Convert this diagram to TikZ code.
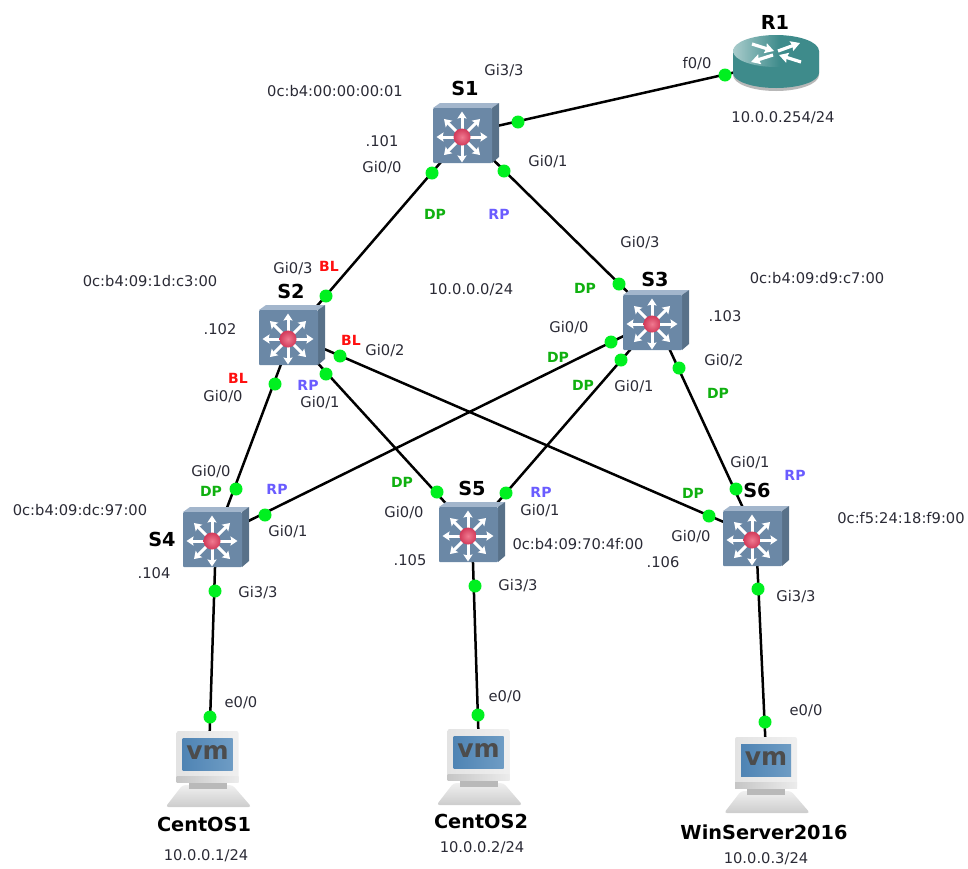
\documentclass[tikz,border=0pt]{standalone}
\usepackage{fontspec}
\setmainfont{DejaVu Sans}
\usetikzlibrary{arrows.meta}
\definecolor{portgreen}{HTML}{00F020}
\definecolor{dpgreen}{HTML}{10B010}
\definecolor{rpblue}{HTML}{6A5CFF}
\definecolor{blred}{HTML}{FF1010}
\definecolor{txt}{HTML}{2A2A35}
\definecolor{swfront}{HTML}{6B88A6}
\definecolor{swtop}{HTML}{A3B6CC}
\definecolor{swside}{HTML}{587189}
\definecolor{teal}{HTML}{3E8B8B}
\definecolor{tealpale}{HTML}{A9CCCC}
\definecolor{vmblue}{HTML}{4F84B4}
\definecolor{vmblue2}{HTML}{6E9CC4}
\definecolor{redlite}{HTML}{F07A90}
\definecolor{reddark}{HTML}{D23A5A}
\pgfdeclarehorizontalshading{routertop}{100bp}{color(0bp)=(tealpale); color(25bp)=(tealpale); color(52bp)=(teal); color(100bp)=(teal)}
\newcounter{autoid}
\tikzset{
  x=1pt,y=-1pt,
  link/.style={draw=black,line width=2.5pt},
  portdotstyle/.style={circle,fill=portgreen,draw=none,minimum size=13pt,inner sep=0pt},
  small/.style={font=\fontsize{14.7}{16}\selectfont,text=txt,inner sep=0pt},
  devname/.style={font=\fontsize{19.3}{22}\bfseries\selectfont,text=black,inner sep=0pt},
  DP/.style={font=\fontsize{14}{16}\bfseries\selectfont,text=dpgreen,inner sep=0pt},
  RP/.style={font=\fontsize{14}{16}\bfseries\selectfont,text=rpblue,inner sep=0pt},
  BL/.style={font=\fontsize{14}{16}\bfseries\selectfont,text=blred,inner sep=0pt},
  spoke/.style={draw=white,line width=3pt,-{Stealth[length=7pt,width=9pt,inset=1pt]}},
  rarrow/.style={draw=white,line width=3.2pt,-{Stealth[length=9pt,width=10pt,inset=1pt]}},
}
\newcommand{\tl}[3]{\stepcounter{autoid}\node[#1] (t\theautoid) at (#2) {#3};}
\newcommand{\pd}[1]{\stepcounter{autoid}\node[portdotstyle] (p\theautoid) at (#1) {};}
\newcommand{\swicon}[1]{%
 \begin{scope}[shift={(#1.center)}]
  \fill[swtop] (-33,-25) -- (-26,-30) -- (33,-30) -- (26,-25) -- cycle;
  \fill[swside] (26,-25) -- (33,-30) -- (33,24) -- (26,30) -- cycle;
  \fill[swfront,rounded corners=1pt] (-33,-25) rectangle (26,30);
  \foreach \a in {0,45,...,315}{\draw[spoke] (-4,4) -- ++(\a:25.5);}
  \shade[inner color=redlite,outer color=reddark] (-4,4) circle (8.5);
 \end{scope}}
\newcommand{\vmicon}[1]{%
 \begin{scope}[shift={(#1.center)}]
  \shade[top color=gray!12,bottom color=gray!40,rounded corners=3pt] (-26,16) -- (24,16) -- (43,38) -- (-43,38) -- cycle;
  \fill[gray!55] (-20,12) rectangle (18,20);
  \shade[left color=gray!22,right color=gray!12,rounded corners=2pt] (-32,-38) rectangle (30,13);
  \shade[left color=gray!45,right color=gray!15] (-32,7) rectangle (30,13);
  \shade[left color=vmblue,right color=vmblue2] (-26,-31) rectangle (24,1);
  \node[inner sep=0pt,text=black!70,font=\fontsize{25}{25}\bfseries\selectfont] (#1txt) at (-1,-17) {vm};
 \end{scope}}
\begin{document}
\begin{tikzpicture}
\useasboundingbox (0,0) rectangle (968,868);
% anchors
\foreach \n/\p in {S1/{466,133},S2/{292,335},S3/{656,320},S4/{216,537},S5/{472,532},S6/{756,536}}
  {\node[inner sep=0pt,minimum width=66pt,minimum height=60pt] (\n) at (\p) {};}
\node[inner sep=0pt,minimum width=86pt,minimum height=56pt] (R1) at (776,63) {};
\node[inner sep=0pt,minimum width=85pt,minimum height=76pt] (V1) at (208.5,769) {};
\node[inner sep=0pt,minimum width=85pt,minimum height=76pt] (V2) at (479.5,767) {};
\node[inner sep=0pt,minimum width=85pt,minimum height=76pt] (V3) at (767,775) {};
% links
\foreach \a/\b in {S1/R1,S1/S2,S1/S3,S2/S4,S2/S5,S2/S6,S3/S4,S3/S5,S3/S6,S4/V1,S5/V2,S6/V3}
  {\draw[link] (\a.center) -- (\b.center);}
% router
\begin{scope}[shift={(R1.center)}]
  \fill[black!28] (-43,-12) -- (-43,12) arc[start angle=180,end angle=0,x radius=43,y radius=16] -- (43,-12) -- cycle;
  \fill[teal] (-43,-12) -- (-43,10) arc[start angle=180,end angle=0,x radius=43,y radius=15] -- (43,-12) -- cycle;
  \shade[shading=routertop] (0,-12) ellipse[x radius=43,y radius=16];
  \draw[rarrow] (-24,-19) -- (-2,-12);
  \draw[rarrow] (2,-12) -- (24,-20);
  \draw[rarrow] (-3,-8) -- (-25,-1);
  \draw[rarrow] (25,-1) -- (3,-8);
\end{scope}
\foreach \n in {S1,S2,S3,S4,S5,S6}{\swicon{\n}}
\vmicon{V1}\vmicon{V2}\vmicon{V3}
% port dots
\pd{518,122}\pd{725,75}\pd{432,173}\pd{326,296}\pd{504,171}\pd{619,284}
\pd{275,384}\pd{236,489}\pd{326,374}\pd{437,492}\pd{340,356}\pd{709,516}
\pd{611,342}\pd{265,515}\pd{621,360}\pd{506,493}\pd{679,368}\pd{736,489}
\pd{215,591}\pd{210,717}\pd{475,586}\pd{478,715}\pd{758,589}\pd{765,722}
% device names
\tl{devname}{775,22}{R1}\tl{devname}{465,88}{S1}\tl{devname}{291,291}{S2}
\tl{devname}{655,279}{S3}\tl{devname}{162,539}{S4}\tl{devname}{472,488}{S5}
\tl{devname}{757,490}{S6}\tl{devname}{204,824}{CentOS1}\tl{devname}{481,821}{CentOS2}
\tl{devname}{764,832}{WinServer2016}
% small labels
\tl{small}{335,91}{0c:b4:00:00:00:01}\tl{small}{382,141}{.101}\tl{small}{382,168}{Gi0/0}
\tl{small}{504,71}{Gi3/3}\tl{small}{697,64}{f0/0}\tl{small}{783,118}{10.0.0.254/24}
\tl{small}{548,162}{Gi0/1}\tl{small}{640,243}{Gi0/3}\tl{small}{471,290}{10.0.0.0/24}
\tl{small}{150,281}{0c:b4:09:1d:c3:00}\tl{small}{293,269}{Gi0/3}\tl{small}{220,329}{.102}
\tl{small}{385,351}{Gi0/2}\tl{small}{223,397}{Gi0/0}\tl{small}{320,403}{Gi0/1}
\tl{small}{817,278}{0c:b4:09:d9:c7:00}\tl{small}{725,316}{.103}\tl{small}{569,328}{Gi0/0}
\tl{small}{724,361}{Gi0/2}\tl{small}{634,387}{Gi0/1}\tl{small}{750,463}{Gi0/1}
\tl{small}{211,472}{Gi0/0}\tl{small}{80,510}{0c:b4:09:dc:97:00}\tl{small}{288,532}{Gi0/1}
\tl{small}{154,573}{.104}\tl{small}{258,593}{Gi3/3}\tl{small}{404,513}{Gi0/0}
\tl{small}{540,511}{Gi0/1}\tl{small}{578,544}{0c:b4:09:70:4f:00}\tl{small}{410,560}{.105}
\tl{small}{518,586}{Gi3/3}\tl{small}{691,537}{Gi0/0}\tl{small}{901,518}{0c:f5:24:18:f9:00}
\tl{small}{663,562}{.106}\tl{small}{796,597}{Gi3/3}\tl{small}{241,703}{e0/0}
\tl{small}{505,697}{e0/0}\tl{small}{806,711}{e0/0}\tl{small}{206,856}{10.0.0.1/24}
\tl{small}{482,848}{10.0.0.2/24}\tl{small}{766,859}{10.0.0.3/24}
% role labels
\tl{DP}{435,214}{DP}\tl{RP}{499,214}{RP}\tl{DP}{585,288}{DP}\tl{BL}{329,266}{BL}
\tl{BL}{351,340}{BL}\tl{BL}{238,378}{BL}\tl{RP}{308,385}{RP}\tl{DP}{558,357}{DP}
\tl{DP}{718,393}{DP}\tl{DP}{583,385}{DP}\tl{RP}{795,475}{RP}\tl{DP}{211,491}{DP}
\tl{RP}{277,489}{RP}\tl{DP}{402,482}{DP}\tl{RP}{541,492}{RP}\tl{DP}{693,493}{DP}
\end{tikzpicture}
\end{document}
